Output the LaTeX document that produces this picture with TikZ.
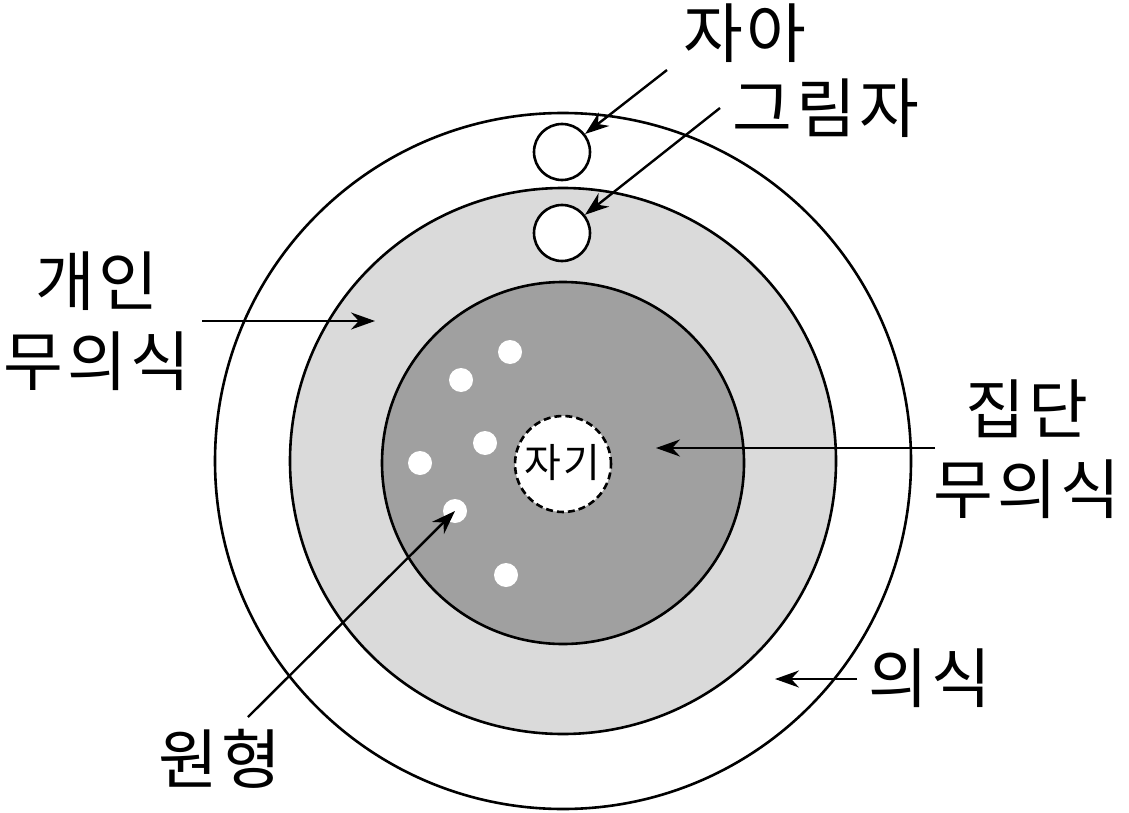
\documentclass[tikz,border=0pt]{standalone}
\usepackage{fontspec}
\setmainfont[LetterSpace=6]{Noto Sans CJK KR}
\usetikzlibrary{arrows.meta}
\definecolor{lightg}{HTML}{DADADA}
\definecolor{darkg}{HTML}{A0A0A0}
\begin{document}
\begin{tikzpicture}[x=1pt,y=-1pt,
  ring/.style={circle,draw=black,line width=2.6pt,inner sep=0pt},
  dot/.style={circle,fill=white,inner sep=0pt,minimum size=24pt},
  lbl/.style={font=\fontsize{65}{80}\selectfont,align=center,inner sep=0pt},
  arr/.style={line width=2.4pt,-{Stealth[length=24pt,width=17pt]}}]
\useasboundingbox (0,0) rectangle (1129,813);
% circles
\node[ring,fill=white,minimum size=696pt] (outer) at (563,461) {};
\node[ring,fill=lightg,minimum size=546pt] (mid) at (563,461) {};
\node[ring,fill=darkg,minimum size=362pt] (inner) at (563,463) {};
\node[ring,fill=white,dashed,dash pattern=on 7pt off 4pt,minimum size=96pt] (self) at (563,464) {};
\node[font=\fontsize{40}{48}\selectfont,inner sep=0pt] (selftxt) at (562,463) {자기};
\node[ring,fill=white,minimum size=56pt] (ego) at (562,152) {};
\node[ring,fill=white,minimum size=56pt] (shadow) at (562,233) {};
% archetype dots
\node[dot] (d1) at (510,352) {};
\node[dot] (d2) at (461,380) {};
\node[dot] (d3) at (485,443) {};
\node[dot] (d4) at (420,463) {};
\node[dot] (d5) at (455,511) {};
\node[dot] (d6) at (506,575) {};
% labels
\node[lbl] (lego) at (745,33) {자아};
\node[lbl] (lshadow) at (826,108) {그림자};
\node[lbl] (lpers) at (97,321) {개인\\무의식};
\node[lbl] (lcoll) at (1027,449) {집단\\무의식};
\node[lbl] (lcons) at (930,678) {의식};
\node[lbl] (larch) at (220,759) {원형};
% connector free ends
\coordinate (s1) at (667,70);
\coordinate (s2) at (720,108);
\coordinate (s3) at (202,321);
\coordinate (t3) at (375,321);
\coordinate (s4) at (935,448);
\coordinate (t4) at (656,448);
\coordinate (s5) at (857,679);
\coordinate (t5) at (775,679);
\coordinate (s6) at (248,717);
% arrows
\draw[arr] (s1) -- (ego);
\draw[arr] (s2) -- (shadow);
\draw[arr] (s3) -- (t3);
\draw[arr] (s4) -- (t4);
\draw[arr] (s5) -- (t5);
\draw[arr] (s6) -- (d5.center);
\end{tikzpicture}
\end{document}
